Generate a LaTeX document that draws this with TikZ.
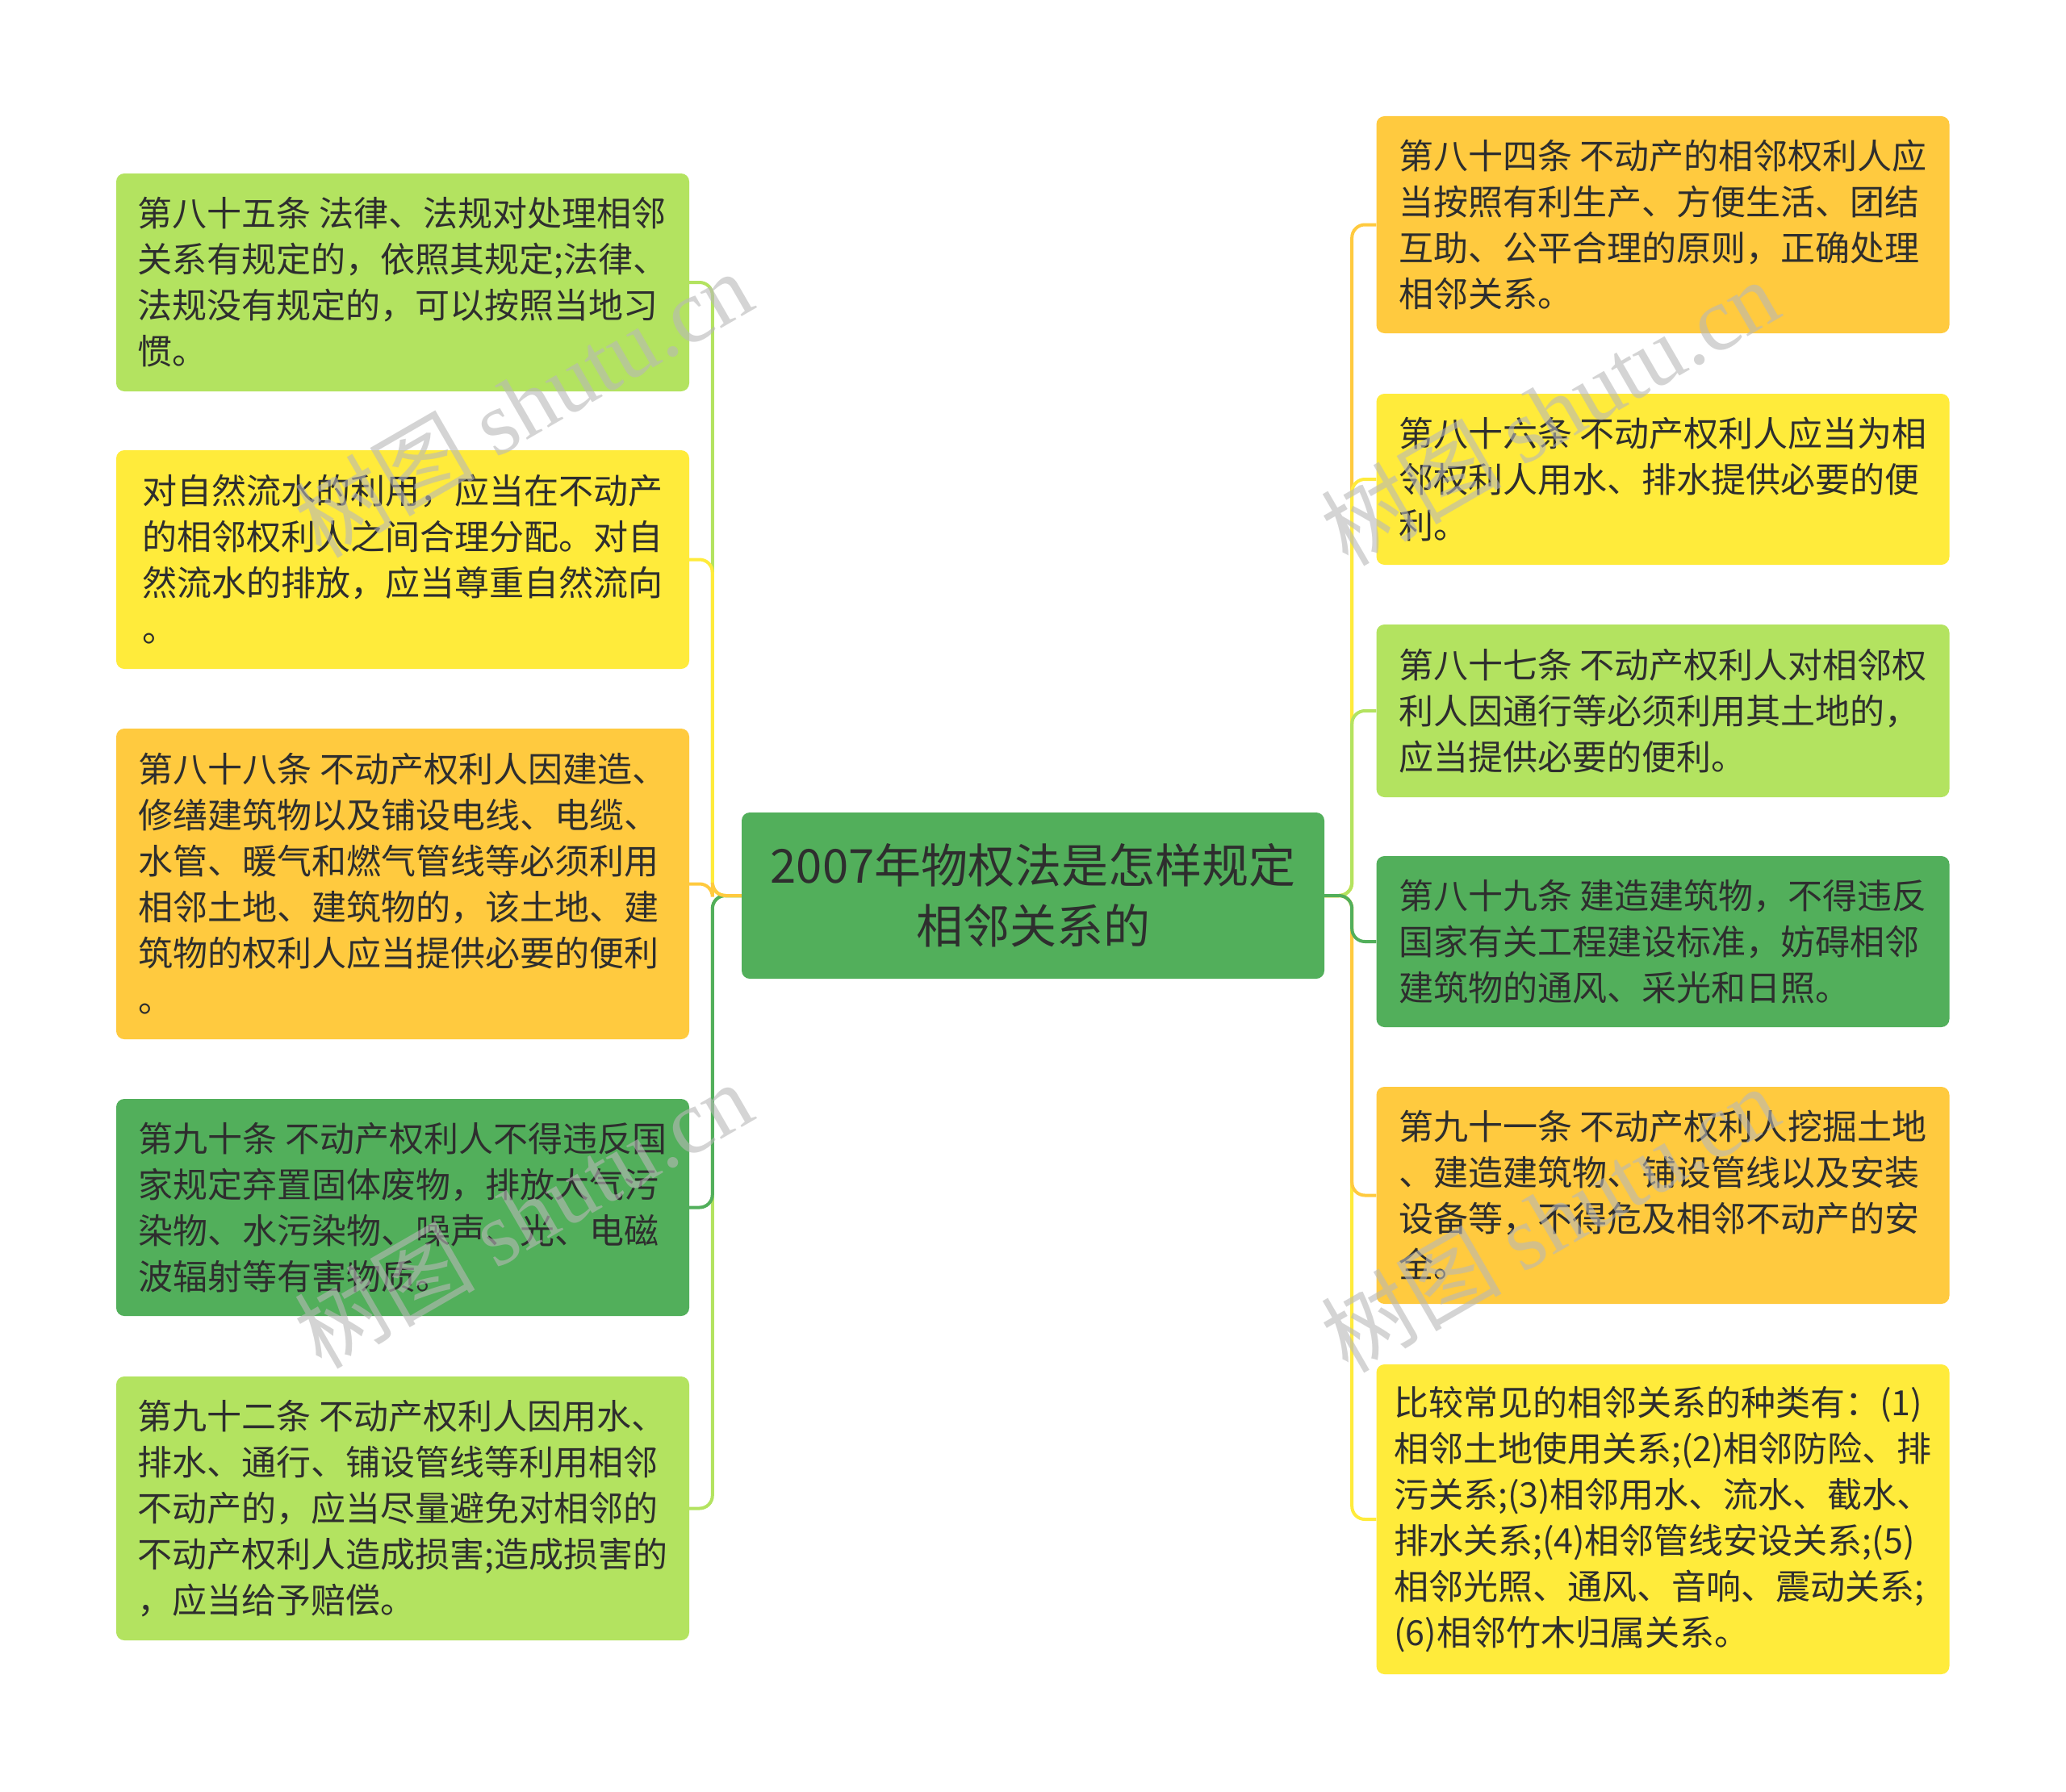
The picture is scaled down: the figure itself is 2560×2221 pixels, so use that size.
\documentclass[tikz,border=0pt]{standalone}
\usepackage{fontspec}
\setmainfont{Noto Sans CJK SC}
\newfontfamily\wmserif{Liberation Serif}
\newfontfamily\wmcjk{Noto Sans CJK SC}
\definecolor{lgreen}{HTML}{B3E360}
\definecolor{myyellow}{HTML}{FFEB3B}
\definecolor{myorange}{HTML}{FFCA3F}
\definecolor{mygreen}{HTML}{52AF5B}
\definecolor{txt}{HTML}{2E2E2E}
\definecolor{wm}{HTML}{B8B8B8}
\tikzset{
  leaf/.style={rectangle, rounded corners=10pt, minimum width=710pt, align=left,
    inner sep=0pt, text=txt, font=\fontsize{43}{57}\selectfont},
  root/.style={rectangle, rounded corners=10pt, minimum width=722pt, minimum height=206pt,
    align=center, inner sep=0pt, fill=mygreen, text=txt, font=\fontsize{58}{75}\selectfont},
  conn/.style={line width=4pt, rounded corners=16pt},
  wmark/.style={text=wm, opacity=0.6, rotate=30, font=\fontsize{112}{112}\selectfont}
}
\begin{document}
\begin{tikzpicture}[x=1pt,y=-1pt]
\useasboundingbox (0,0) rectangle (2560,2221);
\node[root] (c) at (1280,1110) {2007年物权法是怎样规定\\相邻关系的};

\node[leaf, fill=lgreen, minimum height=270pt] (l1) at (499,350)
 {第八十五条 法律、法规对处理相邻\\关系有规定的，依照其规定;法律、\\法规没有规定的，可以按照当地习\\惯。};
\node[leaf, fill=myyellow, minimum height=271pt] (l2) at (499,693.5)
 {对自然流水的利用，应当在不动产\\的相邻权利人之间合理分配。对自\\然流水的排放，应当尊重自然流向\\。};
\node[leaf, fill=myorange, minimum height=385pt] (l3) at (499,1095.5)
 {第八十八条 不动产权利人因建造、\\修缮建筑物以及铺设电线、电缆、\\水管、暖气和燃气管线等必须利用\\相邻土地、建筑物的，该土地、建\\筑物的权利人应当提供必要的便利\\。};
\node[leaf, fill=mygreen, minimum height=269pt] (l4) at (499,1496.5)
 {第九十条 不动产权利人不得违反国\\家规定弃置固体废物，排放大气污\\染物、水污染物、噪声、光、电磁\\波辐射等有害物质。};
\node[leaf, fill=lgreen, minimum height=327pt] (l5) at (499,1869.5)
 {第九十二条 不动产权利人因用水、\\排水、通行、铺设管线等利用相邻\\不动产的，应当尽量避免对相邻的\\不动产权利人造成损害;造成损害的\\，应当给予赔偿。};

\node[leaf, fill=myorange, minimum height=269pt] (r1) at (2060.5,278.5)
 {第八十四条 不动产的相邻权利人应\\当按照有利生产、方便生活、团结\\互助、公平合理的原则，正确处理\\相邻关系。};
\node[leaf, fill=myyellow, minimum height=212pt] (r2) at (2060.5,594)
 {第八十六条 不动产权利人应当为相\\邻权利人用水、排水提供必要的便\\利。};
\node[leaf, fill=lgreen, minimum height=214pt] (r3) at (2060.5,881)
 {第八十七条 不动产权利人对相邻权\\利人因通行等必须利用其土地的，\\应当提供必要的便利。};
\node[leaf, fill=mygreen, minimum height=212pt] (r4) at (2060.5,1167)
 {第八十九条 建造建筑物，不得违反\\国家有关工程建设标准，妨碍相邻\\建筑物的通风、采光和日照。};
\node[leaf, fill=myorange, minimum height=269pt] (r5) at (2060.5,1481.5)
 {第九十一条 不动产权利人挖掘土地\\、建造建筑物、铺设管线以及安装\\设备等，不得危及相邻不动产的安\\全。};
\node[leaf, fill=myyellow, minimum height=384pt] (r6) at (2060.5,1883)
 {比较常见的相邻关系的种类有：(1)\\相邻土地使用关系;(2)相邻防险、排\\污关系;(3)相邻用水、流水、截水、\\排水关系;(4)相邻管线安设关系;(5)\\相邻光照、通风、音响、震动关系;\\(6)相邻竹木归属关系。};

\draw[conn, lgreen]   (c.west) -- ++(-36,0) |- (l1.east);
\draw[conn, lgreen]   (c.west) -- ++(-36,0) |- (l5.east);
\draw[conn, myyellow] (c.west) -- ++(-36,0) |- (l2.east);
\draw[conn, mygreen]  (c.west) -- ++(-36,0) |- (l4.east);
\draw[conn, myorange] (c.west) -- ++(-36,0) |- (l3.east);

\draw[conn, myyellow] (c.east) -- ++(34,0) |- (r6.west);
\draw[conn, myorange] (c.east) -- ++(34,0) |- (r1.west);
\draw[conn, myyellow] (c.east) -- ++(34,0) |- (r2.west);
\draw[conn, lgreen]   (c.east) -- ++(34,0) |- (r3.west);
\draw[conn, myorange] (c.east) -- ++(34,0) |- (r5.west);
\draw[conn, mygreen]  (c.east) -- ++(34,0) |- (r4.west);

\node[wmark] (w1) at (648,500) {\wmcjk 树图 \wmserif shutu.cn};
\node[wmark] (w2) at (648,1505) {\wmcjk 树图 \wmserif shutu.cn};
\node[wmark] (w3) at (1920,510) {\wmcjk 树图 \wmserif shutu.cn};
\node[wmark] (w4) at (1920,1510) {\wmcjk 树图 \wmserif shutu.cn};
\end{tikzpicture}
\end{document}
